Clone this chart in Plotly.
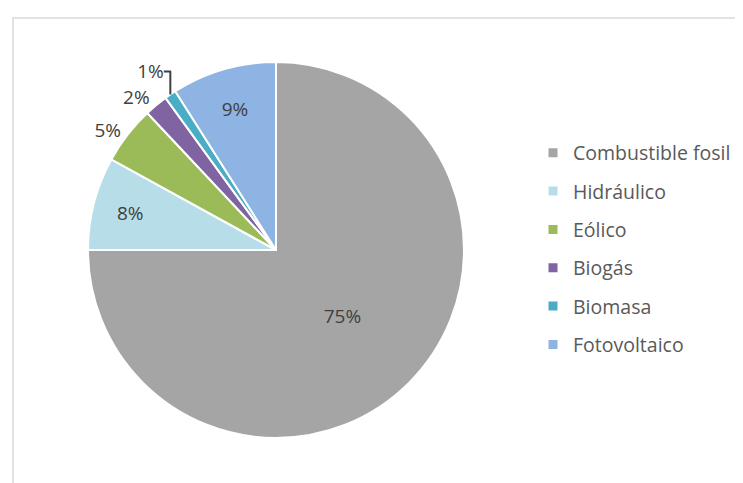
import plotly.graph_objects as go

categories = ["Combustible fosil", "Hidráulico", "Eólico", "Biogás", "Biomasa", "Fotovoltaico"]
values = [75, 8, 5, 2, 1, 9]
colors = ["#A5A5A5", "#B7DEE8", "#9BBB59", "#8064A2", "#4BACC6", "#8DB4E2"]
text_pos = ["inside", "inside", "outside", "outside", "outside", "inside"]

W, H = 743, 483
cx, cy, r = 268, 242, 188

fig = go.Figure()
fig.add_trace(go.Pie(
    labels=categories, values=values, sort=False, direction="clockwise", rotation=0,
    marker=dict(colors=colors, line=dict(color="white", width=2)),
    texttemplate="%{percent:.0%}", textposition=text_pos,
    textfont=dict(family="Open Sans, sans-serif", size=19, color="#404040"),
    insidetextorientation="horizontal",
    showlegend=False, hoverinfo="label+percent",
    domain=dict(x=[(cx - r) / W, (cx + r) / W], y=[1 - (cy + r) / H, 1 - (cy - r) / H]),
))
for name, col in zip(categories, colors):
    fig.add_trace(go.Scatter(
        x=[None], y=[None], mode="markers", name=name, legendgroup=name,
        marker=dict(symbol="square", size=9, color=col),
    ))

fig.update_layout(
    width=W, height=H, margin=dict(l=0, r=0, t=0, b=0),
    paper_bgcolor="white", plot_bgcolor="white",
    xaxis=dict(visible=False), yaxis=dict(visible=False),
    legend=dict(
        x=525 / W, xanchor="left", y=1 - 241 / H, yanchor="middle",
        font=dict(family="Open Sans, sans-serif", size=19.5, color="#595959"),
        tracegroupgap=10, bgcolor="rgba(0,0,0,0)",
    ),
    shapes=[dict(type="rect", xref="paper", yref="paper",
                 x0=5 / W, x1=1.01, y0=-0.01, y1=1 - 10 / H,
                 line=dict(color="#D9D9D9", width=1.5))],
)
fig.write_html("out.html")
